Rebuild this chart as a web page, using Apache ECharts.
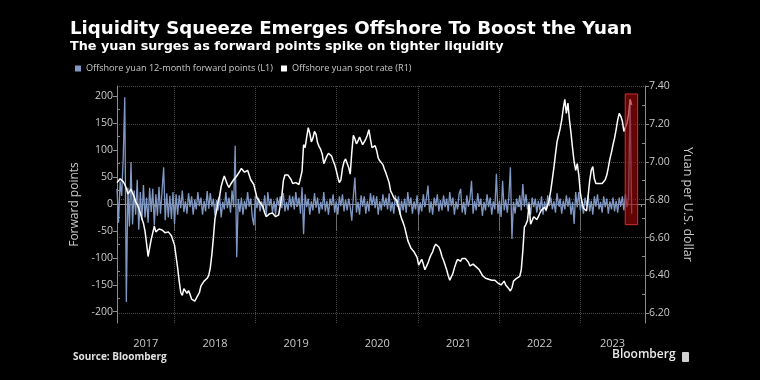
<!DOCTYPE html>
<html><head><meta charset="utf-8">
<script src="https://cdn.jsdelivr.net/npm/echarts@6/dist/echarts.min.js"></script>
<style>html,body{margin:0;padding:0;background:#000;}#c{width:760px;height:380px;}</style>
</head><body><div id="c"></div>
<script>
const titleText = 'Liquidity Squeeze Emerges Offshore To Boost the Yuan';
const subtitleText = 'The yuan surges as forward points spike on tighter liquidity';
const sourceText = 'Source: Bloomberg';
const brandText = 'Bloomberg';
const seriesNames = ['Offshore yuan 12-month forward points (L1)', 'Offshore yuan spot rate (R1)'];
const leftAxisName = 'Forward points';
const rightAxisName = 'Yuan per U.S. dollar';

// weekly observations starting from this date
const firstWeek = '2017-04-17';
const axisStart = '2017-04-17';
const axisEnd = '2023-10-20';
const yearStarts = ['2018-01-01','2019-01-01','2020-01-01','2021-01-01','2022-01-01','2023-01-01'];
const labelYears = [2017, 2018, 2019, 2020, 2021, 2022, 2023];

const forwardPoints = [
  28, -35, 42, 15, 86, 198, -182, 30, -42, 78,
  -38, 25, -20, 45, -48, 22, -30, 35, -25, 12,
  -35, 30, -15, 28, -40, 18, -22, 32, -18, 25,
  68, -30, 20, -25, 15, -28, 22, -37, 18, -20,
  16, -8, 25, -15, 5, -18, 20, -6, 14, -20,
  8, -10, 22, -4, 12, -20, 6, -14, 24, -9,
  20, -5, 10, -22, 7, -12, 16, -25, 4, -10,
  22, -8, 12, -16, 25, -6, 108, -99, 9, -15,
  12, -20, 6, -10, 22, -5, 10, -24, -40, 15,
  -8, 12, -14, 5, -10, 16, -22, 22, -4, 10,
  -16, 6, -20, 12, -3, 14, -8, 20, -14, 4,
  -12, 16, -6, 14, -10, 22, -5, 12, -18, 31,
  -56, 18, -6, 10, -20, 5, -12, 20, -7, 12,
  -18, 4, -10, 22, -14, 6, -20, 10, -3, 18,
  -16, 5, -20, 14, -4, 18, -14, 8, -12, 10,
  -6, -31, 14, 49, -16, 4, -20, 16, -5, 14,
  -18, 6, -14, 20, -3, 16, -8, 14, -20, 5,
  -12, 18, -5, 12, -10, 20, -14, 4, -18, 16,
  -4, 14, -20, 6, -12, 10, -16, 22, -5, 12,
  -18, 5, -10, 16, -20, 3, -14, 18, -6, 10,
  34, -16, 5, -20, 12, -4, 18, -14, 7, -12,
  16, -6, 10, -14, 22, -4, 12, -20, 5, -10,
  18, 28, -16, 4, -20, 16, -5, 10, 43, -18,
  6, -12, 20, -5, 10, -22, 4, -12, 18, -6,
  12, -20, 5, -10, 56, -18, 6, -24, 43, -12,
  8, -16, 12, 68, -65, 4, -18, 10, -6, 16,
  -12, 37, -5, 18, -10, 4, -20, 12, -6, 10,
  -16, 6, -12, 14, -20, 5, -14, 16, -4, 12,
  -10, 5, -16, 20, -4, 10, -18, 6, -10, 16,
  -5, 12, -20, 4, -37, 22, -6, 22, -12, 5,
  -18, 12, -4, 16, -14, 6, -20, 14, -5, 18,
  -10, 4, -16, 14, -6, 10, -18, 5, -10, 12,
  -14, 6, -16, 12, -4, 14, -12, 18, -6, 12,
  194, -18
];

const spotRate = [
  6.89, 6.90, 6.91, 6.905, 6.895, 6.88, 6.86, 6.83, 6.84, 6.855,
  6.845, 6.815, 6.79, 6.775, 6.755, 6.73, 6.70, 6.675, 6.635, 6.57,
  6.50, 6.545, 6.59, 6.625, 6.66, 6.63, 6.62, 6.645, 6.655, 6.64,
  6.635, 6.625, 6.615, 6.63, 6.625, 6.61, 6.585, 6.56, 6.50, 6.44,
  6.37, 6.31, 6.295, 6.33, 6.325, 6.305, 6.32, 6.30, 6.275, 6.285,
  6.265, 6.275, 6.295, 6.31, 6.345, 6.355, 6.37, 6.36, 6.385, 6.40,
  6.44, 6.51, 6.60, 6.70, 6.74, 6.79, 6.82, 6.87, 6.90, 6.925,
  6.92, 6.88, 6.865, 6.88, 6.89, 6.905, 6.915, 6.925, 6.935, 6.95,
  6.965, 6.96, 6.945, 6.95, 6.955, 6.93, 6.905, 6.895, 6.88, 6.845,
  6.81, 6.80, 6.785, 6.775, 6.76, 6.73, 6.71, 6.705, 6.725, 6.72,
  6.73, 6.725, 6.71, 6.705, 6.72, 6.725, 6.82, 6.90, 6.93, 6.935,
  6.93, 6.925, 6.905, 6.885, 6.88, 6.89, 6.885, 6.88, 6.885, 6.95,
  7.09, 7.075, 7.13, 7.18, 7.15, 7.105, 7.125, 7.16, 7.145, 7.10,
  7.08, 7.065, 7.04, 6.99, 7.01, 7.03, 7.045, 7.055, 7.03, 7.005,
  6.985, 6.955, 6.92, 6.89, 6.905, 6.965, 7.00, 7.015, 7.02, 6.97,
  6.935, 7.05, 7.14, 7.12, 7.095, 7.11, 7.13, 7.11, 7.09, 7.10,
  7.12, 7.14, 7.17, 7.12, 7.075, 7.08, 7.085, 7.06, 7.02, 7.005,
  7.00, 6.985, 6.96, 6.94, 6.915, 6.89, 6.845, 6.83, 6.81, 6.80,
  6.795, 6.76, 6.73, 6.70, 6.68, 6.655, 6.62, 6.585, 6.565, 6.545,
  6.535, 6.525, 6.51, 6.495, 6.455, 6.47, 6.485, 6.46, 6.43, 6.435,
  6.465, 6.49, 6.51, 6.525, 6.55, 6.565, 6.57, 6.55, 6.53, 6.50,
  6.48, 6.455, 6.43, 6.40, 6.375, 6.385, 6.41, 6.44, 6.465, 6.485,
  6.48, 6.475, 6.49, 6.495, 6.49, 6.485, 6.47, 6.45, 6.455, 6.46,
  6.45, 6.445, 6.44, 6.43, 6.42, 6.40, 6.39, 6.385, 6.39, 6.38,
  6.37, 6.375, 6.38, 6.375, 6.37, 6.36, 6.355, 6.35, 6.36, 6.37,
  6.35, 6.34, 6.33, 6.318, 6.335, 6.37, 6.375, 6.385, 6.39, 6.395,
  6.43, 6.53, 6.655, 6.67, 6.69, 6.775, 6.67, 6.69, 6.71, 6.705,
  6.695, 6.71, 6.73, 6.745, 6.755, 6.76, 6.745, 6.745, 6.80, 6.85,
  6.91, 6.97, 7.04, 7.105, 7.14, 7.175, 7.22, 7.28, 7.33, 7.255,
  7.31, 7.22, 7.15, 7.07, 7.00, 6.955, 6.99, 6.93, 6.835, 6.79,
  6.755, 6.745, 6.74, 6.82, 6.90, 6.955, 6.975, 6.91, 6.885, 6.875,
  6.885, 6.89, 6.885, 6.89, 6.905, 6.93, 6.97, 7.015, 7.05, 7.09,
  7.125, 7.17, 7.22, 7.255, 7.24, 7.215, 7.16, 7.15, 7.205, 7.25,
  7.33, 7.30
];

const leftTicks = [-200, -150, -100, -50, 0, 50, 100, 150, 200];
const leftMinorTicks = [-175, -125, -75, -25, 25, 75, 125, 175];
const leftRange = [-221, 219];
const rightTicks = [6.2, 6.4, 6.6, 6.8, 7.0, 7.2, 7.4];
const rightMinorTicks = [6.3, 6.5, 6.7, 6.9, 7.1, 7.3];
const rightRange = [6.149, 7.40];
// highlighted box: [start date, top value], [end date, bottom value] on the right axis
const highlightBox = [['2023-07-23', 7.358], ['2023-09-17', 6.668]];

const DAY = 86400000;
const t0 = Date.parse(firstWeek);
const dates = spotRate.map((_, i) => t0 + i * 7 * DAY);
const xMin = Date.parse(axisStart), xMax = Date.parse(axisEnd);
const yearTs = yearStarts.map(d => Date.parse(d));
const labelTs = labelYears.map(y => {
  const a = Math.max(xMin, Date.UTC(y, 0, 1));
  const b = Math.min(xMax, Date.UTC(y + 1, 0, 1));
  return (a + b) / 2;
});
const quarterTs = [];
labelYears.forEach(y => [3, 6, 9].forEach(m => {
  const t = Date.UTC(y, m, 1);
  if (t > xMin && t < xMax) quarterTs.push(t);
}));

const FONT = 'Open Sans';
const HFONT = 'DejaVu Sans';
const TXT = '#c8c8c8';
const AX = '#8c8c8c';
const GRIDC = '#4a4a4a';
const BLUE = '#8098c4';

const chart = echarts.init(document.getElementById('c'), null, {renderer: 'canvas'});
chart.setOption({
  backgroundColor: '#000',
  animation: false,
  textStyle: {fontFamily: FONT},
  title: [
    {text: titleText, left: 70, top: 20, padding: 0, textStyle: {color: '#fff', fontSize: 18.2, fontWeight: 'bold', fontFamily: HFONT}},
    {text: subtitleText, left: 70, top: 40, padding: 0, textStyle: {color: '#fff', fontSize: 12.8, fontWeight: 'bold', fontFamily: HFONT}},
    {text: sourceText, left: 73, top: 352, padding: 0, textStyle: {color: '#e0e0e0', fontSize: 10, fontWeight: 'bold', fontFamily: FONT}},
    {text: brandText, left: 612, top: 349, padding: 0, textStyle: {color: '#e8e8e8', fontSize: 12, fontWeight: 600, fontFamily: FONT}}
  ],
  graphic: [
    {type: 'rect', left: 682, top: 352, shape: {width: 7, height: 10, r: 1}, style: {fill: '#d0d0d0'}}
  ],
  legend: {
    left: 75, top: 64, padding: 0, icon: 'rect', itemWidth: 6, itemHeight: 6, itemGap: 8,
    data: seriesNames,
    textStyle: {color: TXT, fontSize: 9.1, fontFamily: FONT}
  },
  grid: {left: 117, right: 115, top: 86, bottom: 57, containLabel: false},
  xAxis: [
    {
      type: 'value', min: xMin, max: xMax,
      axisLine: {show: true, lineStyle: {color: AX, width: 1}},
      axisTick: {show: true, customValues: yearTs, length: 27, lineStyle: {color: '#6a6a6a'}},
      axisLabel: {customValues: labelTs, formatter: v => String(new Date(v).getUTCFullYear()), color: TXT, fontSize: 11, margin: 15, fontFamily: FONT},
      splitLine: {show: true, lineStyle: {color: GRIDC, type: 'dotted'}}
    },
    {
      type: 'value', min: xMin, max: xMax, position: 'bottom',
      axisLine: {show: false},
      axisTick: {show: true, customValues: quarterTs, length: 3, lineStyle: {color: AX}},
      axisLabel: {show: false},
      splitLine: {show: false}
    }
  ],
  yAxis: [
    {
      type: 'value', position: 'left', min: leftRange[0], max: leftRange[1],
      axisLine: {show: true, lineStyle: {color: AX}},
      axisTick: {show: true, customValues: leftTicks, length: 4, lineStyle: {color: AX}},
      axisLabel: {customValues: leftTicks, color: TXT, fontSize: 10.5, margin: 4, fontFamily: FONT},
      splitLine: {show: false},
      name: leftAxisName, nameLocation: 'middle', nameGap: 31, nameRotate: 90,
      nameTextStyle: {color: TXT, fontSize: 12, fontFamily: FONT}
    },
    {
      type: 'value', position: 'right', min: rightRange[0], max: rightRange[1],
      axisLine: {show: true, lineStyle: {color: AX}},
      axisTick: {show: true, customValues: rightTicks, length: 4, lineStyle: {color: AX}},
      axisLabel: {customValues: rightTicks, formatter: v => v.toFixed(2), color: TXT, fontSize: 10.5, margin: 4, fontFamily: FONT},
      splitLine: {show: true, lineStyle: {color: GRIDC, type: 'dotted'}},
      name: rightAxisName, nameLocation: 'middle', nameGap: 30, nameRotate: -90,
      nameTextStyle: {color: TXT, fontSize: 12.5, fontFamily: FONT}
    },
    {
      type: 'value', position: 'left', min: leftRange[0], max: leftRange[1],
      axisLine: {show: false},
      axisTick: {show: true, inside: true, customValues: leftMinorTicks, length: 3, lineStyle: {color: AX}},
      axisLabel: {show: false}, splitLine: {show: false}
    },
    {
      type: 'value', position: 'right', min: rightRange[0], max: rightRange[1],
      axisLine: {show: false},
      axisTick: {show: true, inside: true, customValues: rightMinorTicks, length: 3, lineStyle: {color: AX}},
      axisLabel: {show: false}, splitLine: {show: false}
    }
  ],
  series: [
    {
      name: seriesNames[0], type: 'line', xAxisIndex: 0, yAxisIndex: 0,
      data: forwardPoints.map((v, i) => [dates[i], v]),
      showSymbol: false, symbol: 'none', color: BLUE,
      lineStyle: {color: BLUE, width: 1.3}, z: 2
    },
    {
      name: seriesNames[1], type: 'line', xAxisIndex: 0, yAxisIndex: 1,
      data: spotRate.map((v, i) => [dates[i], v]),
      showSymbol: false, symbol: 'none', color: '#ffffff',
      lineStyle: {color: '#ffffff', width: 1.5}, z: 3
    },
    {
      name: 'highlight', type: 'line', xAxisIndex: 0, yAxisIndex: 1, data: [], z: 10,
      markArea: {
        silent: true, z: 10,
        itemStyle: {color: 'rgba(160,8,8,0.62)', borderColor: '#d23030', borderWidth: 1},
        data: [[
          {xAxis: Date.parse(highlightBox[0][0]), yAxis: highlightBox[0][1]},
          {xAxis: Date.parse(highlightBox[1][0]), yAxis: highlightBox[1][1]}
        ]]
      }
    }
  ]
});
</script></body></html>
